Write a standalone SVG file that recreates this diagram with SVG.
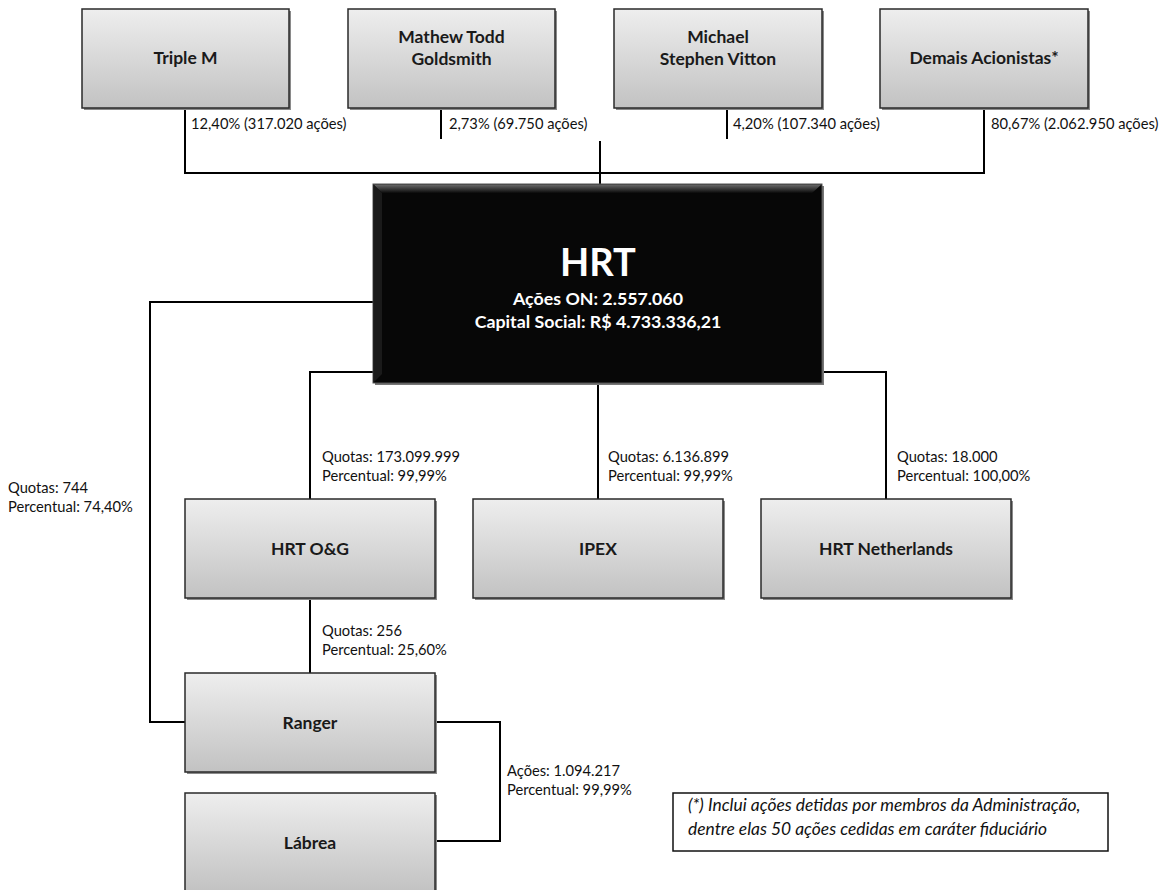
<svg xmlns="http://www.w3.org/2000/svg" width="1162" height="890" viewBox="0 0 1162 890">
<defs>
<linearGradient id="gbox" x1="0" y1="0" x2="0" y2="1">
<stop offset="0" stop-color="#eeeeee"/>
<stop offset="1" stop-color="#c2c2c2"/>
</linearGradient>
<linearGradient id="gtop" x1="0" y1="0" x2="0" y2="1">
<stop offset="0" stop-color="#6a6a6a"/>
<stop offset="1" stop-color="#0a0a0a"/>
</linearGradient>
<style>
.box{fill:url(#gbox);stroke:#2a2a2a;stroke-width:1.5}
.sh{fill:#8a8a8a}
.nt{font-family:Lato,"Open Sans",sans-serif;font-weight:bold;font-size:17.5px;fill:#1a1a1a;text-anchor:middle}
.lb{font-family:Lato,"Open Sans",sans-serif;font-size:14.7px;fill:#111}
.cn{fill:none;stroke:#000;stroke-width:2}
.wt{font-family:Lato,"Open Sans",sans-serif;font-weight:bold;fill:#fff;text-anchor:middle}
.nb{font-family:Lato,"Open Sans",sans-serif;font-style:italic;font-size:17.4px;fill:#111}
</style>
</defs>
<rect width="1162" height="890" fill="#fff"/>

<g id="connectors">
<path class="cn" d="M185,108 V173 H984 V108"/>
<path class="cn" d="M441,108 V139"/>
<path class="cn" d="M727,108 V139"/>
<path class="cn" d="M600,141 V184"/>
<path class="cn" d="M373,302 H150 V722 H185"/>
<path class="cn" d="M373,372 H310 V499"/>
<path class="cn" d="M598,383 V499"/>
<path class="cn" d="M822,372 H886 V499"/>
<path class="cn" d="M310,598 V673"/>
<path class="cn" d="M435,722 H500 V841 H435"/>
</g>

<g id="labels">
<text class="lb" x="191" y="129">12,40% (317.020 ações)</text>
<text class="lb" x="449" y="129">2,73% (69.750 ações)</text>
<text class="lb" x="733" y="129">4,20% (107.340 ações)</text>
<text class="lb" x="991" y="129">80,67% (2.062.950 ações)</text>
<text class="lb" x="8" y="493">Quotas: 744</text>
<text class="lb" x="8" y="512">Percentual: 74,40%</text>
<text class="lb" x="322" y="462">Quotas: 173.099.999</text>
<text class="lb" x="322" y="481">Percentual: 99,99%</text>
<text class="lb" x="608" y="462">Quotas: 6.136.899</text>
<text class="lb" x="608" y="481">Percentual: 99,99%</text>
<text class="lb" x="897" y="462">Quotas: 18.000</text>
<text class="lb" x="897" y="481">Percentual: 100,00%</text>
<text class="lb" x="322" y="636">Quotas: 256</text>
<text class="lb" x="322" y="655">Percentual: 25,60%</text>
<text class="lb" x="507" y="776">Ações: 1.094.217</text>
<text class="lb" x="507" y="795">Percentual: 99,99%</text>
</g>

<g id="triple-m">
<rect class="sh" x="84" y="11" width="207" height="99"/>
<rect class="box" x="82" y="9" width="207" height="99"/>
<text class="nt" x="185.5" y="64">Triple M</text>
</g>
<g id="mathew">
<rect class="sh" x="350" y="11" width="207" height="99"/>
<rect class="box" x="348" y="9" width="207" height="99"/>
<text class="nt" x="451.5" y="43">Mathew Todd</text>
<text class="nt" x="451.5" y="65">Goldsmith</text>
</g>
<g id="michael">
<rect class="sh" x="616" y="11" width="208" height="99"/>
<rect class="box" x="614" y="9" width="208" height="99"/>
<text class="nt" x="718" y="43">Michael</text>
<text class="nt" x="718" y="65">Stephen Vitton</text>
</g>
<g id="demais">
<rect class="sh" x="882" y="11" width="208" height="99"/>
<rect class="box" x="880" y="9" width="208" height="99"/>
<text class="nt" x="984" y="64">Demais Acionistas*</text>
</g>

<g id="hrt">
<rect x="375" y="186" width="449" height="199" fill="#777"/>
<rect x="373" y="184" width="449" height="199" fill="#070707" stroke="#555" stroke-width="1"/>
<polygon points="373.5,184.5 821.5,184.5 812,193 382,193" fill="url(#gtop)"/>
<polygon points="373.5,184.5 382,193 382,374 373.5,382.5" fill="#1a1a1a"/>
<text class="wt" x="598" y="276" font-size="38">HRT</text>
<text class="wt" x="598" y="305" font-size="17.8">Ações ON: 2.557.060</text>
<text class="wt" x="598" y="328" font-size="17.8">Capital Social: R$ 4.733.336,21</text>
</g>

<g id="hrt-og">
<rect class="sh" x="187" y="501" width="250" height="99"/>
<rect class="box" x="185" y="499" width="250" height="99"/>
<text class="nt" x="310" y="555">HRT O&amp;G</text>
</g>
<g id="ipex">
<rect class="sh" x="475" y="501" width="250" height="99"/>
<rect class="box" x="473" y="499" width="250" height="99"/>
<text class="nt" x="598" y="555">IPEX</text>
</g>
<g id="hrt-netherlands">
<rect class="sh" x="763" y="501" width="250" height="99"/>
<rect class="box" x="761" y="499" width="250" height="99"/>
<text class="nt" x="886" y="555">HRT Netherlands</text>
</g>
<g id="ranger">
<rect class="sh" x="187" y="675" width="250" height="99"/>
<rect class="box" x="185" y="673" width="250" height="99"/>
<text class="nt" x="310" y="729">Ranger</text>
</g>
<g id="labrea">
<rect class="sh" x="187" y="795" width="250" height="99"/>
<rect class="box" x="185" y="793" width="250" height="99"/>
<text class="nt" x="310" y="849">Lábrea</text>
</g>

<g id="note">
<rect x="673" y="793" width="435" height="58" fill="#fff" stroke="#111" stroke-width="1.5"/>
<text class="nb" x="688" y="811">(*) Inclui ações detidas por membros da Administração,</text>
<text class="nb" x="688" y="835">dentre elas 50 ações cedidas em caráter fiduciário</text>
</g>
</svg>
